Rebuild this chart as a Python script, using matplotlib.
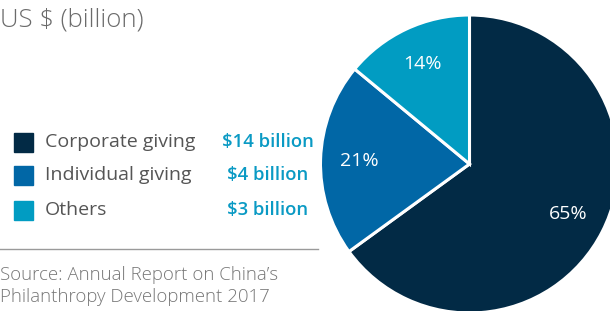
import matplotlib
matplotlib.use('Agg')
import matplotlib.pyplot as plt
from matplotlib.patches import Rectangle

plt.rcParams['font.family'] = ['Open Sans', 'DejaVu Sans']

# data
categories = ['Corporate giving', 'Individual giving', 'Others']
shares = [65, 21, 14]
amounts = ['$14 billion', '$4 billion', '$3 billion']
colors = ['#022A45', '#0167A6', '#019CC2']
title = 'US $ (billion)'
source = 'Source: Annual Report on China\u2019s\nPhilanthropy Development 2017'

W, H = 610, 311
fig = plt.figure(figsize=(W / 100, H / 100), dpi=100)

# pie axes, centre ~ (469, 164) px, radius ~149 px (cut at right/bottom)
cx, cy, r = 469.5, 164, 149
ax = fig.add_axes([(cx - r) / W, (H - cy - r) / H, 2 * r / W, 2 * r / H])
wedges, texts, autotexts = ax.pie(
    shares, colors=colors, startangle=90, counterclock=False,
    autopct='%d%%', pctdistance=0.74,
    wedgeprops=dict(edgecolor='white', linewidth=2.2),
    textprops=dict(color='white', fontsize=14))
ax.set_xlim(-1, 1)
ax.set_ylim(-1, 1)
ax.axis('off')
for w in wedges:
    w.set_clip_on(False)

# overlay for text / legend in pixel coords
ov = fig.add_axes([0, 0, 1, 1])
ov.set_xlim(0, W)
ov.set_ylim(H, 0)
ov.axis('off')
ov.patch.set_alpha(0)

ov.text(0, 20, title, fontsize=18.5, weight='light', color='#6b6b6b',
        va='center', ha='left')

rows = [142, 175, 210]
for y, cat, amt, c in zip(rows, categories, amounts, colors):
    ov.add_patch(Rectangle((14, y - 9.5), 19, 19, color=c))
    ov.text(45, y, cat, fontsize=14, color='#555555', va='center', ha='left')
    ov.text(268, y, amt, fontsize=13.3, color='#0A9AC4', weight='semibold',
            va='center', ha='center')

ov.plot([0, 318], [249, 249], color='#9a9a9a', linewidth=1)
ov.text(0, 286, source, fontsize=13.4, weight='light', color='#777777',
        va='center', ha='left', linespacing=1.35)

fig.savefig('out.png', dpi=100)
